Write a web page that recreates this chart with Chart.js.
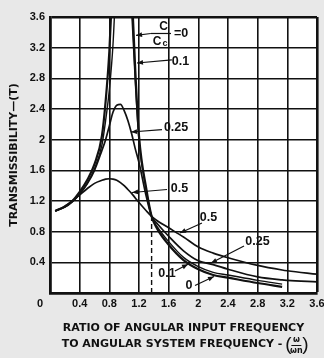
<!DOCTYPE html>
<html>
<head>
<meta charset="utf-8">
<title>Transmissibility</title>
<script src="https://cdn.jsdelivr.net/npm/chart.js@4.4.1/dist/chart.umd.min.js"></script>
<style>
  html, body { margin: 0; padding: 0; background: #e8e8e8; }
  #wrap { width: 324px; height: 358px; }
</style>
</head>
<body>
<div id="wrap"><canvas id="transChart"></canvas></div>
<script>
// frequency ratio w/wn at which the curves are sampled
const ratio = [0.07, 0.2, 0.3, 0.4, 0.5, 0.6, 0.7, 0.75, 0.8, 0.85, 0.9, 0.95, 1.0, 1.05,
               1.1, 1.15, 1.2, 1.3, 1.37, 1.45, 1.6, 1.8, 2.0, 2.2, 2.4, 2.8, 3.13, 3.2, 3.6];

// transmissibility T for each damping ratio C/Cc (null = beyond the top / not drawn)
const trans0   = [1.07, 1.13, 1.2, 1.32, 1.47, 1.68, 2.05, 2.5, 3.15, 4.2, null, null, null, null,
                  4.0, 2.9, 2.05, 1.35, 1.0, 0.83, 0.63, 0.43, 0.31, 0.235, 0.2, 0.13, 0.08, null, null];
const trans01  = [1.07, 1.12, 1.19, 1.29, 1.43, 1.62, 1.93, 2.25, 2.65, 3.25, 4.3, null, null, 4.6,
                  3.7, 2.75, 1.98, 1.33, 1.0, 0.86, 0.67, 0.465, 0.345, 0.27, 0.235, 0.165, 0.115, null, null];
const trans025 = [1.07, 1.12, 1.19, 1.29, 1.42, 1.6, 1.86, 2.0, 2.18, 2.36, 2.45, 2.46, 2.38, 2.25,
                  2.08, 1.88, 1.7, 1.25, 1.0, 0.9, 0.74, 0.55, 0.42, 0.37, 0.31, 0.21, 0.17, 0.165, 0.145];
const trans05  = [1.07, 1.13, 1.2, 1.28, 1.36, 1.43, 1.47, 1.485, 1.49, 1.485, 1.47, 1.44, 1.4, 1.35,
                  1.3, 1.24, 1.18, 1.07, 1.0, 0.94, 0.85, 0.73, 0.6, 0.52, 0.46, 0.36, 0.3, 0.29, 0.245];

// dashed line down from the point where all curves cross
const crossRatio = [1.37, 1.37];
const crossTrans = [0, 1.0];

const damping = ['0', '0.1', '0.25', '0.5'];
const tickLabels = ['0', '0.4', '0.8', '1.2', '1.6', '2', '2.4', '2.8', '3.2', '3.6'];

const ink = '#111';
const tickFont = { family: '"Liberation Sans", Arial, sans-serif', size: 11, weight: 'bold' };
const titleFont = { family: '"DejaVu Sans", sans-serif', size: 11, weight: 'bold' };
const noteFont = 'bold 12.5px "Liberation Sans", Arial, sans-serif';

function series(values) {
    return ratio.map((r, i) => ({ x: r, y: values[i] }));
}

const datasets = [
    { label: 'C/Cc = ' + damping[0], data: series(trans0), borderWidth: 2.2 },
    { label: 'C/Cc = ' + damping[1], data: series(trans01), borderWidth: 1.4 },
    { label: 'C/Cc = ' + damping[2], data: series(trans025), borderWidth: 1.7 },
    { label: 'C/Cc = ' + damping[3], data: series(trans05), borderWidth: 1.7 }
].map(d => Object.assign(d, {
    borderColor: ink,
    pointRadius: 0,
    fill: false,
    spanGaps: false,
    cubicInterpolationMode: 'monotone'
}));

datasets.push({
    label: 'crossover',
    data: crossRatio.map((r, i) => ({ x: r, y: crossTrans[i] })),
    borderColor: ink,
    borderWidth: 1.4,
    borderDash: [5, 3],
    pointRadius: 0
});

// leader arrows: label centre, line start and arrow tip, in (ratio, T)
const callouts = [
    { from: [1.36, 3.385], tip: [1.16, 3.36] },
    { text: damping[1], at: [1.76, 3.02],  from: [1.643, 3.04], tip: [1.173, 3.0] },
    { text: damping[2], at: [1.70, 2.155], from: [1.51, 2.13],  tip: [1.092, 2.10] },
    { text: damping[3], at: [1.746, 1.356], from: [1.578, 1.35], tip: [1.106, 1.311] },
    { text: damping[3], at: [2.137, 0.985], from: [2.049, 0.913], tip: [1.753, 0.783] },
    { text: damping[2], at: [2.798, 0.665], from: [2.616, 0.613], tip: [2.171, 0.391] },
    { text: damping[1], at: [1.578, 0.254], from: [1.685, 0.287], tip: [1.861, 0.375] },
    { text: damping[0], at: [1.874, 0.091], from: [1.955, 0.098], tip: [2.211, 0.215] }
];
const ratioLabelAt = [1.524, 3.385];

function arrowHead(ctx, x1, y1, x2, y2) {
    const a = Math.atan2(y2 - y1, x2 - x1), len = 6, half = 2.4;
    const bx = x2 - len * Math.cos(a), by = y2 - len * Math.sin(a);
    ctx.beginPath();
    ctx.moveTo(x2, y2);
    ctx.lineTo(bx + half * Math.sin(a), by - half * Math.cos(a));
    ctx.lineTo(bx - half * Math.sin(a), by + half * Math.cos(a));
    ctx.closePath();
    ctx.fill();
}

// white plotting field
const plotBackground = {
    id: 'plotBackground',
    beforeDraw(chart) {
        const { ctx, chartArea: a } = chart;
        ctx.save();
        ctx.fillStyle = '#fff';
        ctx.fillRect(a.left, a.top, a.right - a.left, a.bottom - a.top);
        ctx.restore();
    }
};

const notes = {
    id: 'notes',
    afterDatasetsDraw(chart) {
        const { ctx, scales: { x, y } } = chart;
        const px = p => [x.getPixelForValue(p[0]), y.getPixelForValue(p[1])];
        ctx.save();
        ctx.strokeStyle = ink;
        ctx.fillStyle = ink;
        ctx.lineWidth = 1.2;
        ctx.textAlign = 'center';
        ctx.textBaseline = 'middle';
        ctx.font = noteFont;
        callouts.forEach(c => {
            const [x1, y1] = px(c.from), [x2, y2] = px(c.tip);
            ctx.beginPath();
            ctx.moveTo(x1, y1);
            ctx.lineTo(x2, y2);
            ctx.stroke();
            arrowHead(ctx, x1, y1, x2, y2);
            if (c.text) {
                const [tx, ty] = px(c.at);
                ctx.fillText(c.text, tx, ty);
            }
        });

        // C over Cc = 0
        const [fx, fy] = px(ratioLabelAt);
        const [sx] = px(callouts[0].from);
        ctx.beginPath();
        ctx.moveTo(sx, fy);
        ctx.lineTo(fx + 8, fy);
        ctx.stroke();
        ctx.font = 'bold 12px "Liberation Sans", Arial, sans-serif';
        ctx.fillText('C', fx + 0.5, fy - 6.5);
        ctx.fillText('C', fx - 6, fy + 8.5);
        ctx.font = 'bold 9px "Liberation Sans", Arial, sans-serif';
        ctx.fillText('c', fx + 2, fy + 10.5);
        ctx.font = noteFont;
        ctx.textAlign = 'left';
        ctx.fillText('=0', fx + 11, fy);

        // shared origin label in the corner
        ctx.font = 'bold 11px "Liberation Sans", Arial, sans-serif';
        ctx.textAlign = 'center';
        ctx.fillText(tickLabels[0], x.left - 10, x.top + 11);

        // (w / wn) after the second line of the x title
        const t = x.options.title;
        ctx.font = Chart.helpers.toFont(t.font).string;
        const line = t.text[1];
        const full = ctx.measureText(line).width;
        const head = ctx.measureText(line.trimEnd()).width;
        const x0 = (x.left + x.right) / 2 - full / 2 + head + 3;
        const yc = x.bottom - 13;
        ctx.font = '19px "Liberation Sans", Arial, sans-serif';
        ctx.textAlign = 'left';
        ctx.fillText('(', x0, yc);
        ctx.fillText(')', x0 + 17, yc);
        ctx.font = 'bold 8px "DejaVu Sans", sans-serif';
        ctx.textAlign = 'center';
        ctx.fillText('ω', x0 + 11, yc - 5);
        ctx.fillText('ωn', x0 + 11, yc + 6);
        ctx.lineWidth = 1;
        ctx.beginPath();
        ctx.moveTo(x0 + 6, yc + 0.5);
        ctx.lineTo(x0 + 16, yc + 0.5);
        ctx.stroke();
        ctx.restore();
    }
};

const gridWidth = c => (c.tick && Math.abs(c.tick.value - 3.6) < 1e-6 ? 2.6 : 1.6);

new Chart(document.getElementById('transChart'), {
    type: 'line',
    data: { datasets },
    options: {
        responsive: true,
        maintainAspectRatio: false,
        animation: false,
        layout: { padding: { top: 17, right: 7, left: 0, bottom: 0 } },
        plugins: {
            legend: { display: false },
            tooltip: { enabled: false }
        },
        scales: {
            x: {
                type: 'linear',
                min: 0,
                max: 3.6,
                ticks: {
                    stepSize: 0.4,
                    padding: 4,
                    color: ink,
                    font: tickFont,
                    maxRotation: 0,
                    autoSkip: false,
                    callback: (v, i) => (i === 0 ? '' : tickLabels[i])
                },
                grid: { color: ink, lineWidth: gridWidth, drawTicks: false },
                border: { color: ink, width: 2.8 },
                title: {
                    display: true,
                    text: ['RATIO OF ANGULAR INPUT FREQUENCY', 'TO ANGULAR SYSTEM FREQUENCY -      '],
                    color: ink,
                    font: Object.assign({ lineHeight: '16px' }, titleFont),
                    padding: { top: 0, bottom: 6 }
                },
                afterFit: s => { s.height = 65; s.paddingLeft = 0; s.paddingRight = 0; }
            },
            y: {
                min: 0,
                max: 3.6,
                ticks: {
                    stepSize: 0.4,
                    padding: 5,
                    color: ink,
                    font: tickFont,
                    callback: (v, i) => (i === 0 ? '' : tickLabels[i])
                },
                grid: { color: ink, lineWidth: gridWidth, drawTicks: false },
                border: { color: ink, width: 2.8 },
                title: {
                    display: true,
                    text: 'TRANSMISSIBILITY—(T)',
                    color: ink,
                    font: titleFont,
                    padding: { top: 8, bottom: 0 }
                },
                afterFit: s => { s.width = 50; s.paddingTop = 0; s.paddingBottom = 0; }
            }
        }
    },
    plugins: [plotBackground, notes]
});
</script>
</body>
</html>
